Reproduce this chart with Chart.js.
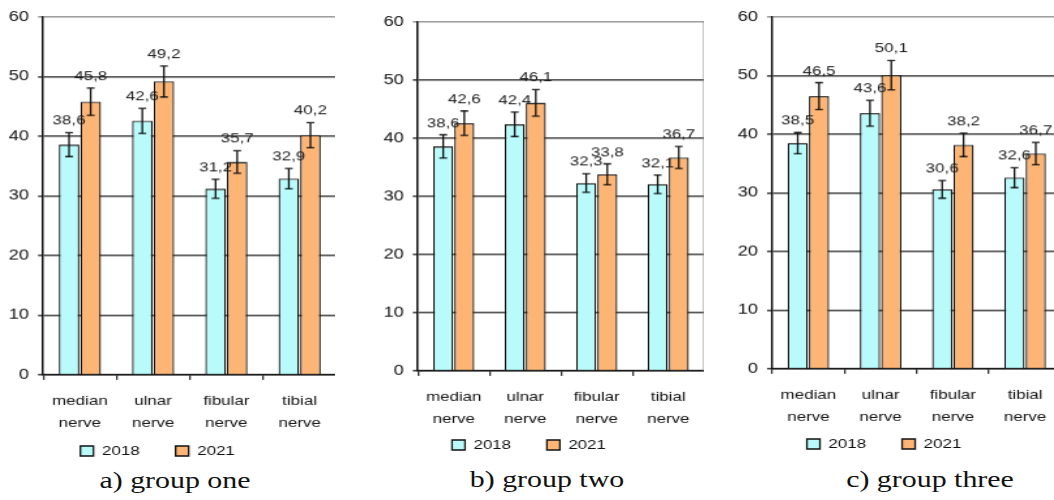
<!DOCTYPE html>
<html><head><meta charset="utf-8">
<script src="https://cdn.jsdelivr.net/npm/chart.js@4.4.1/dist/chart.umd.min.js"></script>
<style>
html,body{margin:0;padding:0;background:#fff;}
body{width:1054px;height:500px;overflow:hidden;position:relative;}
.panel{position:absolute;top:0;transform:scaleX(1.3);transform-origin:0 0;}
.panel canvas{display:block;}
.cap{position:absolute;width:400px;text-align:center;font-family:'Liberation Serif','Times New Roman',serif;font-size:23px;line-height:23px;color:#111;transform:scaleX(1.3);transform-origin:50% 50%;white-space:nowrap;}
</style></head><body>
<div class="panel" id="pa"><canvas id="ca"></canvas></div>
<div class="panel" id="pb"><canvas id="cb"></canvas></div>
<div class="panel" id="pc"><canvas id="cc"></canvas></div>
<div class="cap" id="capa"></div>
<div class="cap" id="capb"></div>
<div class="cap" id="capc"></div>
<script>
// ---------- data ----------
const categories = [['median','nerve'],['ulnar','nerve'],['fibular','nerve'],['tibial','nerve']];
const seriesLabels = ['2018','2021'];
const yTickValues = [0,10,20,30,40,50,60];
const captions = ['a) group one','b) group two','c) group three'];

const groupOne2018 = [38.6, 42.6, 31.2, 32.9];
const groupOne2021 = [45.8, 49.2, 35.7, 40.2];
const groupOne2018Err = [2.0, 2.1, 1.6, 1.7];
const groupOne2021Err = [2.3, 2.6, 1.9, 2.1];

const groupTwo2018 = [38.6, 42.4, 32.3, 32.1];
const groupTwo2021 = [42.6, 46.1, 33.8, 36.7];
const groupTwo2018Err = [2.0, 2.1, 1.6, 1.6];
const groupTwo2021Err = [2.1, 2.3, 1.8, 1.9];

const groupThree2018 = [38.5, 43.6, 30.6, 32.6];
const groupThree2021 = [46.5, 50.1, 38.2, 36.7];
const groupThree2018Err = [1.8, 2.2, 1.5, 1.7];
const groupThree2021Err = [2.3, 2.5, 2.0, 1.9];

// ---------- style / layout ----------
const S = 1.3;
const FONT = '"Liberation Sans", Arial, Helvetica, sans-serif';
const CYAN = '#b9fbfb';
const ORANGE = '#fcb574';
const LEGEND_PAD = 9.5;
const layouts = [
  {panel:'pa', canvas:'ca', cap:'capa', L:-21, R:335, H:466.5, top:17, xh:60, yw:64, capX:175, capTop:469},
  {panel:'pb', canvas:'cb', cap:'capb', L:354, R:704, H:460.5, top:22, xh:58, yw:64, capX:547, capTop:468},
  {panel:'pc', canvas:'cc', cap:'capc', L:707, R:1060, H:459.5, top:17, xh:59, yw:65, capX:930, capTop:468}
];

const fmt = v => v.toFixed(1).replace('.', ',');

const framePlugin = {
  id:'frame',
  beforeDatasetsDraw(chart){
    const {ctx, chartArea:a} = chart;
    ctx.save();
    ctx.strokeStyle = '#999';
    ctx.lineWidth = 1.3;
    ctx.beginPath();
    ctx.moveTo(a.right, a.top);
    ctx.lineTo(a.right, a.bottom);
    ctx.stroke();
    ctx.restore();
  }
};

const errorBarsPlugin = {
  id:'errorBars',
  afterDatasetsDraw(chart){
    const {ctx} = chart;
    const y = chart.scales.y;
    ctx.save();
    chart.data.datasets.forEach((ds, di) => {
      const meta = chart.getDatasetMeta(di);
      meta.data.forEach((bar, i) => {
        const v = ds.data[i], e = ds.errors[i];
        const yt = y.getPixelForValue(v + e), yb = y.getPixelForValue(v - e);
        ctx.strokeStyle = '#111';
        ctx.lineWidth = 1.3;
        ctx.beginPath();
        ctx.moveTo(bar.x, yt); ctx.lineTo(bar.x, yb);
        ctx.moveTo(bar.x - 3, yt); ctx.lineTo(bar.x + 3, yt);
        ctx.moveTo(bar.x - 3, yb); ctx.lineTo(bar.x + 3, yb);
        ctx.stroke();
        ctx.fillStyle = '#1a1a1a';
        ctx.font = '13px ' + FONT;
        ctx.textAlign = 'center';
        ctx.textBaseline = 'alphabetic';
        ctx.fillText(fmt(v), bar.x, yt - 8);
      });
    });
    ctx.restore();
  }
};

function legendLabels(chart){
  const items = Chart.defaults.plugins.legend.labels.generateLabels(chart);
  // widen the gap after each entry (invisible trailing spaces)
  items.forEach((it, i) => { if (i < items.length - 1) it.text = it.text + '\u00a0\u00a0\u00a0\u00a0\u00a0'; });
  return items;
}

function makeChart(lay, d2018, d2021, e2018, e2021, caption){
  const panel = document.getElementById(lay.panel);
  panel.style.left = lay.L + 'px';
  panel.style.width = ((lay.R - lay.L) / S) + 'px';
  panel.style.height = lay.H + 'px';
  const cap = document.getElementById(lay.cap);
  cap.textContent = caption;
  cap.style.left = (lay.capX - 200) + 'px';
  cap.style.top = lay.capTop + 'px';
  const ywU = lay.yw / S;
  new Chart(document.getElementById(lay.canvas), {
    type:'bar',
    data:{
      labels:categories,
      datasets:[
        {label:seriesLabels[0], data:d2018, errors:e2018, backgroundColor:CYAN, borderColor:'#111', borderWidth:1.3, barPercentage:0.95, categoryPercentage:0.59},
        {label:seriesLabels[1], data:d2021, errors:e2021, backgroundColor:ORANGE, borderColor:'#111', borderWidth:1.3, barPercentage:0.95, categoryPercentage:0.59}
      ]
    },
    options:{
      responsive:true, maintainAspectRatio:false, animation:false, events:[],
      layout:{padding:{top:lay.top, left:0, right:0, bottom:0}},
      plugins:{
        legend:{position:'bottom', labels:{boxWidth:10, boxHeight:10, padding:LEGEND_PAD, color:'#111', font:{family:FONT, size:13}, generateLabels:legendLabels}},
        tooltip:{enabled:false}
      },
      scales:{
        x:{
          grid:{display:true, drawOnChartArea:false, drawTicks:true, tickLength:5, color:'#333', lineWidth:1.3, offset:true},
          border:{color:'#111', width:1.5},
          ticks:{color:'#111', font:{family:FONT, size:13, lineHeight:1.69}, padding:10, maxRotation:0, autoSkip:false},
          afterFit(s){ s.height = lay.xh; }
        },
        y:{
          min:0, max:60,
          afterBuildTicks(s){ s.ticks = yTickValues.map(v => ({value:v})); },
          grid:{color:c => (c.tick && c.tick.value === 60) ? '#999' : '#3a3a3a', lineWidth:1.6, tickLength:4},
          border:{color:'#111', width:1.5},
          ticks:{color:'#111', font:{family:FONT, size:14}, padding:7},
          afterFit(s){ s.width = ywU; }
        }
      }
    },
    plugins:[framePlugin, errorBarsPlugin]
  });
}

makeChart(layouts[0], groupOne2018, groupOne2021, groupOne2018Err, groupOne2021Err, captions[0]);
makeChart(layouts[1], groupTwo2018, groupTwo2021, groupTwo2018Err, groupTwo2021Err, captions[1]);
makeChart(layouts[2], groupThree2018, groupThree2021, groupThree2018Err, groupThree2021Err, captions[2]);
</script>
</body></html>
